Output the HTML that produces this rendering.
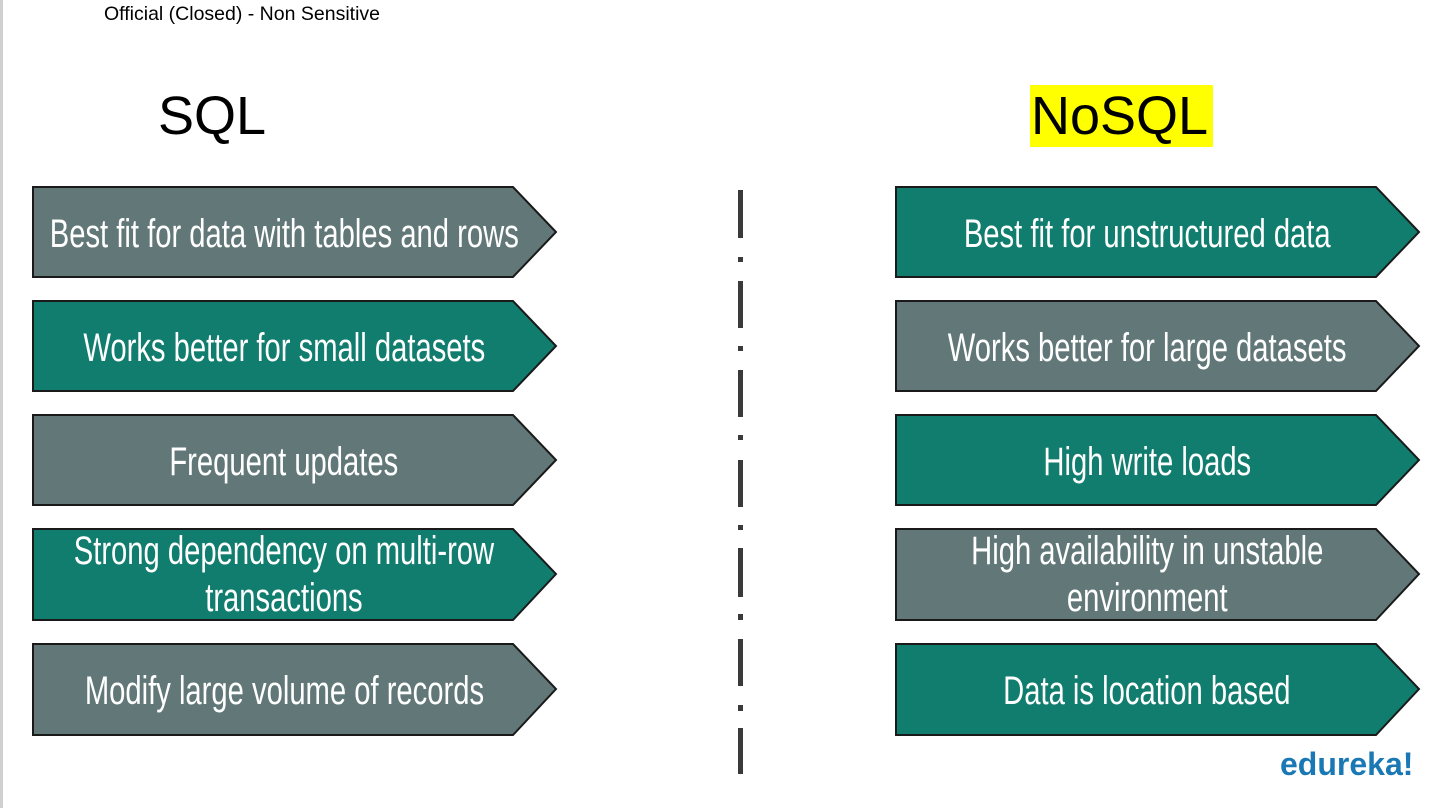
<!DOCTYPE html>
<html><head><meta charset="utf-8"><style>
body{margin:0;width:1443px;height:808px;background:#fff;position:relative;overflow:hidden;font-family:"Liberation Sans",sans-serif}
.lb{position:absolute;left:0;top:0;width:3px;height:808px;background:#d0d0d0}
.t{position:absolute;color:#fff;display:flex;align-items:center;justify-content:center}
.t span{display:block;font-size:40px;line-height:47px;text-align:center;white-space:nowrap;transform:scaleX(0.73)}
.d{position:absolute;left:738px;width:5px;background:#3a3a3a}
</style></head><body>
<div class="lb"></div>
<div style="position:absolute;left:104px;top:3px;font-size:19.5px;color:#000">Official (Closed) - Non Sensitive</div>
<div style="position:absolute;left:158px;top:84px;font-size:54px;line-height:64px;color:#000">SQL</div>
<div style="position:absolute;left:1030px;top:85px;width:183px;height:62px;background:#ffff00"></div>
<div style="position:absolute;left:1031px;top:84px;font-size:54px;line-height:64px;color:#000">NoSQL</div>
<svg width="1443" height="808" style="position:absolute;left:0;top:0">
<g stroke="#1a1a1a" stroke-width="2">
<polygon points="33,187 513,187 556,232 513,277 33,277" fill="#627878"/>
<polygon points="33,301 513,301 556,346 513,391 33,391" fill="#117d6e"/>
<polygon points="33,415 513,415 556,460 513,505 33,505" fill="#627878"/>
<polygon points="33,529 513,529 556,574 513,620 33,620" fill="#117d6e"/>
<polygon points="33,644 513,644 556,689 513,735 33,735" fill="#627878"/>
<polygon points="896,187 1376,187 1419,232 1376,277 896,277" fill="#117d6e"/>
<polygon points="896,301 1376,301 1419,346 1376,391 896,391" fill="#627878"/>
<polygon points="896,415 1376,415 1419,460 1376,505 896,505" fill="#117d6e"/>
<polygon points="896,529 1376,529 1419,574 1376,620 896,620" fill="#627878"/>
<polygon points="896,644 1376,644 1419,689 1376,735 896,735" fill="#117d6e"/>
</g></svg>
<div class="t" style="left:33px;top:187px;width:502px;height:94px"><span>Best fit for data with tables and rows</span></div>
<div class="t" style="left:33px;top:301px;width:502px;height:94px"><span>Works better for small datasets</span></div>
<div class="t" style="left:33px;top:415px;width:502px;height:94px"><span>Frequent updates</span></div>
<div class="t" style="left:33px;top:529px;width:502px;height:92px"><span>Strong dependency on multi-row<br>transactions</span></div>
<div class="t" style="left:33px;top:644px;width:502px;height:94px"><span>Modify large volume of records</span></div>
<div class="t" style="left:896px;top:187px;width:502px;height:94px"><span>Best fit for unstructured data</span></div>
<div class="t" style="left:896px;top:301px;width:502px;height:94px"><span>Works better for large datasets</span></div>
<div class="t" style="left:896px;top:415px;width:502px;height:94px"><span>High write loads</span></div>
<div class="t" style="left:896px;top:529px;width:502px;height:92px"><span>High availability in unstable<br>environment</span></div>
<div class="t" style="left:896px;top:644px;width:502px;height:94px"><span>Data is location based</span></div>
<div class="d" style="top:190px;height:48px"></div>
<div class="d" style="top:257px;height:5px"></div>
<div class="d" style="top:281px;height:47px"></div>
<div class="d" style="top:346px;height:5px"></div>
<div class="d" style="top:370px;height:47px"></div>
<div class="d" style="top:435px;height:5px"></div>
<div class="d" style="top:460px;height:47px"></div>
<div class="d" style="top:525px;height:5px"></div>
<div class="d" style="top:548px;height:49px"></div>
<div class="d" style="top:614px;height:6px"></div>
<div class="d" style="top:639px;height:47px"></div>
<div class="d" style="top:705px;height:6px"></div>
<div class="d" style="top:728px;height:46px"></div>
<div style="position:absolute;left:1280px;top:746px;font-size:32px;font-weight:bold;color:#1a78b4;transform:scaleX(1.0);transform-origin:left top">edureka!</div>
</body></html>
